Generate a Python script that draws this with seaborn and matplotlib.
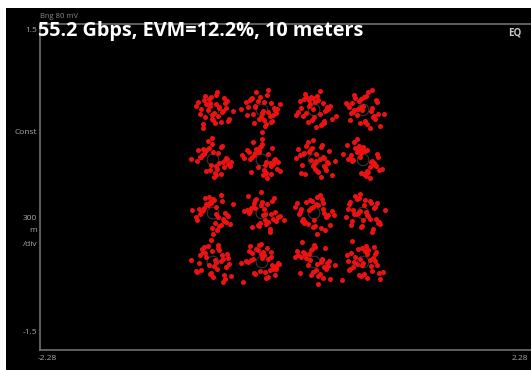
import matplotlib
matplotlib.use("Agg")
import matplotlib.pyplot as plt
import seaborn as sns
import pandas as pd
from matplotlib.patches import Rectangle

# 16-QAM ideal symbol levels (I columns, Q rows)
i_levels = [-0.69, -0.24, 0.24, 0.69]
q_levels = [0.71, 0.25, -0.24, -0.69]

# measured symbol deviations from each ideal point, in hundredths of a unit
# (clusters ordered row by row, top-left first)
dev_i = [
    [-3, 5, -8, 12, 1, -14, 7, -2, 9, -6, 15, -11, 3, -1, 6, -9, 11, -4, 0, 8, -16, 4, -7, 13, -5, 2, 10, -12, -3, 18, -9, 6, -1, 14, -7, 3],
    [6, -4, 10, -9, 2, -13, 5, -1, 14, -7, 8, 0, -11, 3, -6, 12, -2, 7, -15, 9, -5, 1, 17, -8, 4, -10, 11, -3, 6, -14, 2, -19, 8, 13, -6, 0],
    [1, -7, 9, -3, 13, -10, 4, -5, 7, -12, 16, -1, 5, -8, 11, -2, 8, -15, 3, -6, 12, 0, -9, 6, -4, 10, -13, 2, 15, -7, -17, 5, 9, -1, 20, -5],
    [-6, 8, -2, 11, -10, 4, -13, 1, 7, -4, 14, -8, 2, -15, 9, -1, 5, -11, 12, -3, 0, 10, -7, 16, -5, 3, -9, 13, -12, 6, -2, 19, -16, 8, 2, -8],
    [4, -11, 7, -2, 13, -6, 0, 9, -14, 3, -8, 11, -4, 16, -1, 6, -10, 2, -7, 12, -3, 8, -15, 5, 1, -9, 14, -5, 10, -12, -20, 7, 3, -6, 17, -1],
    [-9, 2, 12, -5, 8, -1, 15, -12, 4, -7, 10, 0, -3, 13, -10, 6, -16, 1, 9, -4, 11, -8, 3, -14, 7, -2, 17, -6, 5, -11, 14, -18, 0, 8, -3, 4],
    [2, -5, 11, -13, 6, -1, 9, -8, 14, -3, 0, 7, -10, 4, -15, 12, -6, 1, 8, -11, 16, -2, 5, -9, 3, 13, -7, 10, -4, -17, 6, -1, 19, -12, 2, 9],
    [-2, 9, -7, 4, -12, 13, 1, -5, 8, -15, 6, -3, 11, 0, -9, 15, -6, 3, -11, 7, -1, 12, -8, 5, -14, 2, 10, -4, 17, -10, -18, 6, 4, -2, 14, -6],
    [5, -3, -9, 10, 0, -12, 7, 3, -6, 14, -1, -10, 8, -15, 11, -4, 2, -8, 13, -2, 6, -13, 9, 1, -5, 16, -11, 4, -7, 12, -19, 3, 7, -16, 0, 18],
    [-7, 1, 6, -10, 12, -3, 9, -14, 3, -5, 15, -1, 7, -12, 0, 10, -8, 4, -16, 11, -2, 8, -6, 13, 2, -9, 5, -13, 17, -4, -1, 20, -11, 7, -6, 3],
    [0, 8, -4, 13, -9, 2, -13, 6, -1, 11, -7, 15, -5, 3, -11, 9, 1, -16, 12, -3, 7, -8, 4, -14, 10, -2, 16, -10, 5, -6, 18, -18, 3, -12, 8, -1],
    [3, -10, 7, -1, -14, 11, 5, -6, 14, -3, 9, -12, 1, -8, 12, -4, 16, -9, 6, 0, -13, 4, -2, 10, -7, 15, -5, 2, -16, 8, 13, -11, 20, -3, -6, 6],
    [-4, 6, -11, 2, 10, -7, 14, -2, 5, -13, 8, 0, -9, 12, -5, 3, -16, 9, -1, 11, -6, 15, -10, 4, 7, -3, 13, -8, 1, -15, -20, 9, 5, -12, 17, -2],
    [8, -2, -10, 5, 13, -6, 1, -13, 10, -4, 6, -8, 15, -1, 3, -11, 9, -5, 12, 0, -15, 7, -3, 11, -9, 4, -12, 16, 2, -7, -17, 6, 13, -1, 8, -19],
    [-1, 7, -8, 12, -3, 4, -12, 9, 1, -6, 14, -10, 5, -15, 2, 10, -4, 8, -9, 13, -2, 6, -13, 0, 11, -7, 3, -16, 15, -5, 19, -11, -3, 7, -18, 4],
    [6, -9, 2, -4, 11, -14, 8, -1, 13, -7, 4, -11, 0, 15, -5, 9, -12, 3, -2, 12, -8, 7, -15, 1, 10, -6, 16, -3, 5, -13, -19, 4, 11, -10, 18, -1],
]
dev_q = [
    [4, -6, 9, 2, -3, 7, -11, 12, -1, 5, -8, 1, 14, -5, 3, -13, 6, 10, -9, -2, 4, 16, -7, 8, 0, -12, 11, -4, 6, -1, -17, 2, -8, -10, 13, 5],
    [-2, 8, -5, 11, -9, 3, 14, -7, 1, -12, 6, -3, 9, -15, 4, 0, 12, -6, 7, -10, 16, -1, 5, -4, -13, 10, 2, -8, 18, -5, 7, 1, -11, -3, 3, -20],
    [7, -3, -10, 12, 1, -6, 9, 4, -13, 2, -8, 11, -4, 15, 0, -9, 6, -2, 13, -11, 3, -7, 10, -14, 5, -1, 8, -16, 4, 12, -5, 17, -12, 1, -6, 9],
    [-5, 2, 10, -8, 6, -13, 3, 12, -1, 8, -4, 14, -10, 5, -7, 0, 16, -3, 9, -12, 4, -6, 11, -15, 1, 13, -2, 7, -9, -17, 3, -4, 6, 18, -11, 0],
    [-8, 3, 12, -5, 1, -10, 7, -2, 9, -14, 5, 0, 11, -6, 15, -3, 4, -12, 8, 2, -9, 13, -1, 6, -16, 10, -4, 17, -7, 3, 1, -13, -6, 9, -2, 20],
    [3, -9, 1, 10, -6, 13, -2, 7, -12, 4, -4, 15, 8, -1, -11, 5, 2, -14, 11, -7, 0, 16, -5, 9, -3, 12, -10, 6, -17, 1, -8, 4, 19, -13, 7, -2],
    [-1, 7, -9, 4, 12, -6, 2, -13, 8, 0, -4, 14, 5, -11, 10, -2, 16, -8, 3, -5, -14, 11, 1, 6, -10, -3, 13, -7, 9, 2, -16, 18, -1, -12, 5, -6],
    [6, -4, 11, -10, 2, 5, -13, 9, -1, 14, -7, 3, -5, 12, 0, -9, 7, -15, 4, -2, 10, -6, 16, -11, 1, 8, -3, 13, -8, -1, 5, -17, 9, -12, 3, 19],
    [-4, 10, 3, -7, 13, -1, -11, 6, 8, -3, -14, 2, 11, -6, 0, 15, -9, 5, -2, 9, -12, 4, -5, 12, 7, -10, 1, -16, 14, -8, 3, -1, 17, -4, -19, 8],
    [9, -2, -8, 5, 1, -12, 11, 3, -6, 13, -4, 7, -15, 0, 10, -5, 6, -10, 2, 14, -9, -1, 12, -7, 4, -13, 8, 16, -3, -11, 19, -6, 2, -17, 5, -1],
    [-6, 4, 12, -2, -9, 8, 1, -14, 6, -4, 10, -11, 3, 15, -7, 0, -12, 9, -3, 5, 13, -8, 7, -1, -16, 11, 2, -5, 17, -10, -2, 6, -19, 4, 9, -13],
    [1, -7, 9, -12, 4, 6, -3, 13, -9, 2, -15, 10, 7, -1, -5, 14, -10, 3, 11, -6, 8, -2, -13, 5, 16, -8, 0, 12, -4, -17, 9, -11, 3, 18, -1, -5],
    [-3, 11, -7, 2, -12, 8, 4, -10, 13, -1, 6, -14, 9, -5, 15, 0, -8, 3, 10, -16, 5, -2, 12, -6, 1, -11, 7, 14, -4, -9, 2, -18, 16, 6, -13, 20],
    [5, -8, 2, 13, -4, -11, 9, 0, -6, 11, -14, 3, -1, 7, -9, 15, -3, 12, -12, 4, 1, -7, 16, -5, 8, -15, 10, -2, 6, -10, -18, 3, -6, 17, 9, -1],
    [-9, 3, 7, -1, 11, -13, 5, -5, 14, -3, 1, 9, -11, 6, -7, 13, 2, -15, 8, -4, 12, 0, -10, 16, -6, 4, -2, 10, -16, 7, -3, 18, -12, 2, 5, -20],
    [2, -5, 10, -12, 7, 1, -8, 13, -3, 5, -15, 8, -1, -10, 12, 4, -6, 15, -13, 9, 0, -4, 6, -11, 14, -2, -16, 3, 11, -7, -17, 7, 1, 19, -9, -3],
]

title_text = "55.2 Gbps, EVM=12.2%, 10 meters"
x_range = (-2.28, 2.28)
y_range = (-1.5, 1.5)

# assemble received symbols
rows = []
ideal = []
k = 0
for q0 in q_levels:
    for i0 in i_levels:
        ideal.append({"I": i0, "Q": q0})
        for di, dq in zip(dev_i[k], dev_q[k]):
            rows.append({"I": i0 + di / 100.0, "Q": q0 + dq / 100.0})
        k += 1
symbols = pd.DataFrame(rows)
ideal_df = pd.DataFrame(ideal)

sns.set_style("dark")
plt.rcParams["font.family"] = ["Open Sans", "DejaVu Sans"]

W, H = 531, 370
fig = plt.figure(figsize=(W / 100, H / 100), dpi=100)
fig.patch.set_facecolor("white")
# instrument screen background
fig.patches.append(Rectangle((6 / W, 0), 1, 1 - 8 / H, transform=fig.transFigure,
                             facecolor="black", edgecolor="none", zorder=-5))

ax = fig.add_axes([40 / W, 20 / H, 496 / W, 326 / H])
ax.set_zorder(2)
ax.set_facecolor("black")

# faint reference rings at the ideal symbol positions, under the symbols
sns.scatterplot(data=ideal_df, x="I", y="Q", ax=ax, facecolor="none",
                edgecolor="#383838", s=70, linewidth=0.8, legend=False, zorder=2)
sns.scatterplot(data=symbols, x="I", y="Q", ax=ax, color="#ec1212", s=13,
                linewidth=0, legend=False, zorder=3)

ax.set_xlim(*x_range)
ax.set_ylim(*y_range)
ax.set_xticks([])
ax.set_yticks([])
ax.set_xlabel("")
ax.set_ylabel("")
ax.grid(False)
for side in ["left", "bottom", "top"]:
    ax.spines[side].set_visible(True)
    ax.spines[side].set_color("#666666")
    ax.spines[side].set_linewidth(1.3)
ax.spines["right"].set_visible(False)

def ftext(px, py, s, **kw):
    t = fig.text(px / W, 1 - py / H, s, **kw)
    t.set_zorder(5)
    return t

grey = "#a9a9a9"
ftext(40, 17, "Bng 80 mV", color="#8a8a8a", fontsize=5.5, va="center", ha="left")
ftext(37, 31, f"{y_range[1]:g}", color=grey, fontsize=6, va="center", ha="right")
ftext(37, 333, f"{y_range[0]:g}", color=grey, fontsize=6, va="center", ha="right")
ftext(37, 132, "Const", color=grey, fontsize=6, va="center", ha="right")
ftext(37, 218, "300", color=grey, fontsize=6, va="center", ha="right")
ftext(37, 231, "m", color=grey, fontsize=6, va="center", ha="right")
ftext(37, 244, "/div", color=grey, fontsize=6, va="center", ha="right")
ftext(38, 359, f"{x_range[0]:.2f}", color=grey, fontsize=6, va="center", ha="left")
ftext(512, 359, f"{x_range[1]:.2f}", color=grey, fontsize=6, va="center", ha="left")
ftext(508, 33, "EQ", color="#c8c8c8", fontsize=7, fontweight="bold", va="center", ha="left")
ftext(38, 31, title_text, color="white", fontsize=14.3, fontweight="bold",
      va="center", ha="left")

fig.savefig("out.png", dpi=100, facecolor=fig.get_facecolor())
